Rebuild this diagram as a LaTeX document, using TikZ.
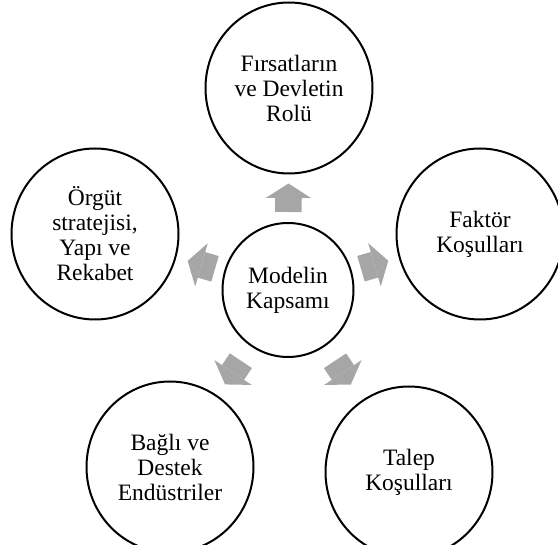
\documentclass[tikz,border=0pt]{standalone}
\usepackage{fontspec}
\setmainfont{Liberation Serif}
\usetikzlibrary{shapes.geometric,arrows.meta,calc}
\definecolor{arrowgray}{RGB}{166,166,166}
\begin{document}
\begin{tikzpicture}[x=1pt,y=-1pt,
  bubble/.style={ellipse, draw=black, line width=2pt, inner sep=0pt,
    align=center, font=\fontsize{23.5pt}{25pt}\selectfont},
  outer/.style={bubble, minimum width=167pt, minimum height=171pt},
  hub/.style={bubble, minimum width=131pt, minimum height=134pt},
  blockarrow/.style={arrowgray, line width=26.6pt,
    -{Triangle[length=14.4pt, width=45pt, line width=0pt]}}]
  \useasboundingbox (0,0) rectangle (558,545);

  % central circle and the five surrounding factors
  \node[hub]   (c)  at (288,290) {Modelin\\Kapsamı};
  \node[outer] (t)  at (289,88)  {Fırsatların\\ve Devletin\\Rolü};
  \node[outer] (r)  at (480,234) {Faktör\\Koşulları};
  \node[outer] (l)  at (95,234)  {Örgüt\\stratejisi,\\Yapı ve\\Rekabet};
  \node[outer] (bl) at (170,467) {Bağlı ve\\Destek\\Endüstriler};
  \node[outer] (br) at (409,472) {Talep\\Koşulları};

  % block arrows pointing from the centre to each factor
  \draw[blockarrow] ($(c)!78pt!(t)$)  -- ($(c)!106.5pt!(t)$);
  \draw[blockarrow] ($(c)!76pt!(r)$)  -- ($(c)!104.5pt!(r)$);
  \draw[blockarrow] ($(c)!76pt!(l)$)  -- ($(c)!104.5pt!(l)$);
  \draw[blockarrow] ($(c)!85pt!(bl)$) -- ($(c)!113.5pt!(bl)$);
  \draw[blockarrow] ($(c)!85pt!(br)$) -- ($(c)!113.5pt!(br)$);
\end{tikzpicture}
\end{document}
